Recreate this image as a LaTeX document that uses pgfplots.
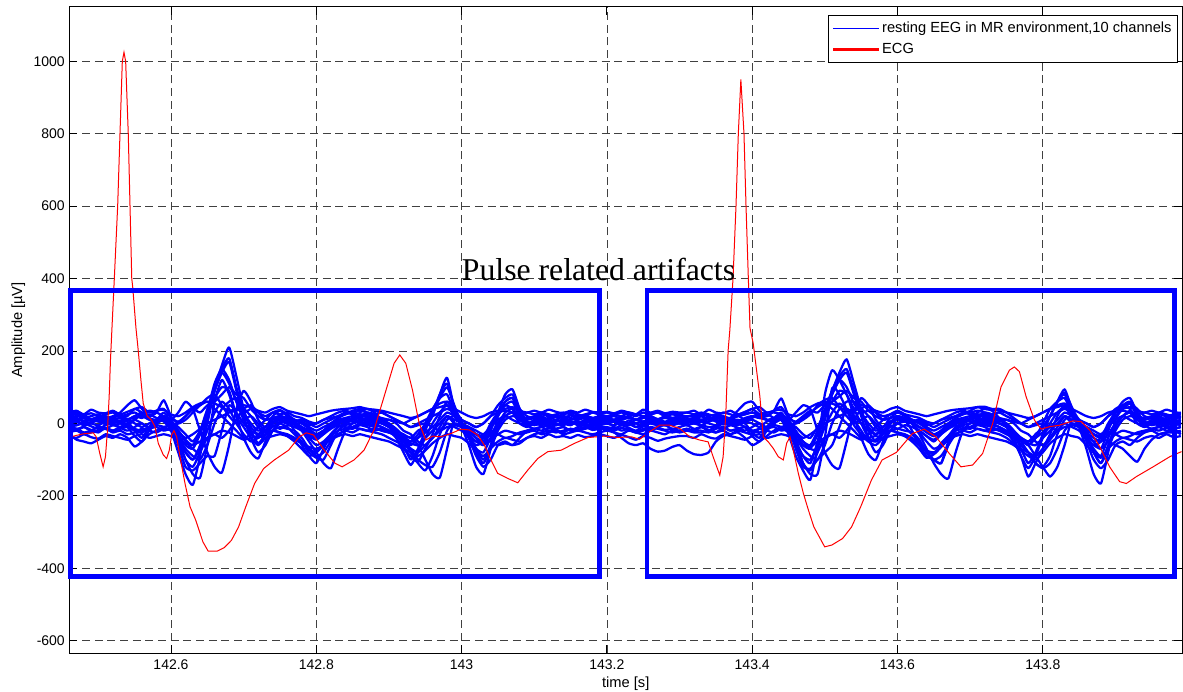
\documentclass[border=0pt]{standalone}
\usepackage{fontspec}
\setmainfont{Liberation Sans}
\newfontfamily\timesfont{Liberation Serif}
\usepackage{pgfplots}
\usepackage{pgfplotstable}
\pgfplotsset{compat=1.18}

% EEG channels (time in s, amplitude in uV)
\pgfplotstableread{
t c1 c2 c3 c4 c5 c6 c7 c8 c9 c10 c11 c12
142.46 5 -10 15 -20 0 10 -30 20 25 -25 10 0
142.47 10 -5 20 -15 5 5 -45 25 30 -20 15 -5
142.48 8 0 18 -25 -5 15 -50 15 22 -30 5 5
142.49 12 -8 10 -20 0 10 -55 20 28 -25 10 0
142.50 6 -15 15 -10 10 5 -45 25 20 -20 15 -5
142.51 10 -5 20 -15 5 0 -35 15 25 -15 5 5
142.52 4 0 12 -20 -5 10 -40 20 30 -25 10 0
142.53 8 5 5 -10 0 15 -30 30 20 -20 15 -10
142.54 12 -5 10 -5 5 10 -40 50 25 -30 20 0
142.55 15 10 0 -15 -20 20 -64 64 30 -25 40 10
142.56 20 25 -10 -20 -40 30 -50 40 20 -15 30 0
142.57 10 15 0 -10 -10 15 -30 20 35 -20 20 -10
142.58 5 0 10 0 10 10 -20 30 30 -25 35 5
142.59 15 20 5 10 20 30 -10 64 20 -15 40 15
142.60 0 -5 -20 -10 10 5 -5 20 10 -20 15 -10
142.61 -20 -40 -80 -50 30 -10 0 0 -20 -50 5 -60
142.62 -45 -80 -140 -100 60 -30 20 10 -50 -80 20 -120
142.63 -60 -100 -170 -140 40 -50 40 30 -70 -100 40 -130
142.64 -20 -60 -90 -150 -20 -20 50 50 -80 -70 30 -110
142.65 40 20 30 -60 -80 30 60 70 0 -20 50 -90
142.66 100 90 110 60 -120 70 40 80 90 30 60 -90
142.67 160 150 150 120 -136 100 20 50 140 60 80 -20
142.68 210 180 120 80 -60 90 0 20 110 40 100 50
142.69 130 100 60 20 40 20 -20 0 60 0 80 30
142.70 40 30 10 -10 90 -40 -40 10 30 -30 70 0
142.71 -20 0 -30 -40 60 -80 -30 20 40 -50 40 -20
142.72 -55 -20 -40 -60 10 -97 -10 0 30 -40 20 -30
142.73 -30 -10 -20 -40 -10 -50 10 -20 20 -30 10 -10
142.74 0 10 0 -20 20 0 30 -10 30 -20 15 5
142.75 10 20 15 -10 35 20 37 5 25 -25 20 0
142.76 5 10 10 -15 20 10 25 0 30 -30 15 -10
142.77 0 -5 5 -20 0 -20 10 5 20 -40 10 -30
142.78 -10 -15 -20 -40 -20 -60 0 10 15 -55 5 -50
142.79 -20 -30 -40 -70 -50 -90 -10 0 5 -70 -5 -80
142.80 -30 -40 -60 -90 -80 -110 -20 -10 0 -80 0 -95
142.81 -20 -25 -50 -80 -110 -70 -10 0 10 -60 10 -100
142.82 -10 -10 -30 -50 -124 -30 0 10 20 -40 15 -60
142.83 0 5 -10 -30 -70 -10 15 20 30 -30 20 -20
142.84 5 10 0 -20 -20 0 25 25 35 -20 30 -5
142.85 10 15 10 -10 0 10 35 30 30 -25 25 0
142.86 15 25 20 0 10 30 40 25 35 -15 20 5
142.87 10 20 30 -5 5 40 40 20 30 -20 25 0
142.88 5 10 25 -10 0 30 35 15 25 -25 20 -5
142.89 0 0 10 -20 -10 10 30 5 30 -30 15 -10
142.90 -10 -5 0 -25 -20 -10 20 10 20 -40 10 -20
142.91 -20 -30 -15 -30 -40 -40 10 0 10 -50 5 -30
142.92 -30 -60 -35 -35 -70 -80 0 -20 0 -60 0 -50
142.93 -40 -100 -50 -40 -90 -115 -10 -30 -10 -70 10 -70
142.94 -20 -70 -30 -60 -106 -80 -5 -50 0 -80 20 -100
142.95 -10 -20 0 -100 -70 -40 0 -60 10 -60 30 -115
142.96 20 30 40 -140 -30 0 -10 -40 20 -40 40 -120
142.97 80 70 70 -150 20 30 -20 -10 30 -20 55 -80
142.98 126 100 80 -70 60 50 -10 20 40 0 60 -20
142.99 40 50 30 10 30 20 -5 10 30 -10 40 0
143.00 -10 0 -10 0 0 0 -10 0 10 -20 10 -5
143.01 -30 -20 -60 -40 -30 -10 -20 -40 0 -35 0 -10
143.02 -50 -40 -120 -90 -70 -30 -30 -70 -10 -50 -10 -20
143.03 -40 -60 -140 -120 -100 -40 -40 -80 0 -60 0 -30
143.04 0 -20 -70 -100 -60 -10 -50 -40 20 -45 20 -10
143.05 30 30 20 -60 -10 20 -60 0 30 -30 50 10
143.06 50 80 60 -50 20 50 -55 30 35 -20 70 20
143.07 40 94 70 -60 30 60 -60 40 30 -25 80 10
143.08 10 40 30 -40 0 20 -55 20 25 -30 40 0
143.09 0 5 0 -20 -10 0 -40 15 30 -25 20 -5
143.10 5 -5 10 -15 0 5 -30 20 25 -20 15 0
143.11 0 0 15 -10 -5 10 -25 25 30 -30 10 5
143.12 5 -10 5 -20 5 0 -20 20 25 -25 15 0
143.13 10 -5 10 -15 0 5 -25 25 20 -20 20 -5
143.14 5 0 20 -10 -5 10 -20 30 25 -30 15 0
143.15 0 5 15 -20 5 5 -15 25 30 -25 10 5
143.16 10 -5 10 -15 0 0 -20 20 25 -20 15 0
143.17 15 0 20 -10 5 10 -15 25 20 -25 20 -5
143.18 10 10 15 -5 0 5 -10 30 30 -30 15 0
143.19 5 5 10 -10 -5 0 -15 25 25 -25 10 5
143.20 10 0 15 -15 0 5 -15 20 30 -20 15 0
143.21 5 -5 10 -10 5 10 -25 25 25 -25 10 -5
143.22 10 5 20 -20 0 5 -40 20 30 -30 15 5
143.23 15 0 15 -15 -5 0 -55 30 25 -20 20 0
143.24 10 -10 10 -25 0 10 -60 25 20 -25 10 -10
143.25 5 -5 20 -20 5 5 -55 20 30 -30 15 0
143.26 10 0 15 -10 0 15 -70 25 25 -20 20 5
143.27 5 5 10 -15 -5 10 -78 30 30 -25 10 0
143.28 0 0 20 -20 0 5 -75 20 25 -30 15 -5
143.29 10 -5 15 -25 5 10 -65 25 30 -20 10 0
143.30 5 0 10 -20 0 5 -60 20 25 -25 15 5
143.31 5 -5 10 -15 5 10 -75 20 30 -20 10 5
143.32 10 0 15 -20 0 5 -85 20 25 -25 15 0
143.33 5 -5 20 -20 -5 10 -87 25 30 -25 10 5
143.34 15 -10 10 -25 5 15 -80 20 25 -20 5 0
143.35 10 -10 20 -15 10 5 -50 25 20 -25 15 -5
143.36 5 0 15 -10 0 0 -35 20 30 -20 10 5
143.37 10 5 10 -20 -5 10 -30 15 25 -30 15 0
143.38 5 0 10 -15 5 20 -25 35 20 -20 20 -5
143.39 15 10 5 -10 0 25 -40 55 25 -25 30 5
143.40 20 15 0 -20 -25 30 -60 60 30 -30 40 10
143.41 15 25 -10 -15 -40 20 -50 35 25 -15 25 0
143.42 10 10 5 -10 -10 10 -35 20 30 -20 20 -10
143.43 5 5 10 0 10 15 -20 35 30 -25 35 5
143.44 20 25 10 15 25 30 -10 69 25 -15 45 15
143.45 0 -5 -30 -20 10 0 -5 20 10 -25 15 -10
143.46 -25 -50 -90 -60 30 -10 0 0 -20 -60 5 -70
143.47 -50 -90 -130 -110 50 -30 15 10 -50 -90 20 -120
143.48 -60 -110 -156 -140 40 -40 30 25 -70 -100 35 -125
143.49 -20 -50 -60 -140 -20 -10 45 50 -70 -60 30 -100
143.50 40 30 80 -40 -80 30 55 65 10 -10 50 -80
143.51 90 90 147 97 -115 60 40 70 80 30 60 -60
143.52 140 130 120 80 -124 90 20 45 120 55 75 -10
143.53 177 150 80 40 -50 80 0 20 100 35 90 40
143.54 110 90 40 10 30 20 -20 0 55 -5 70 20
143.55 40 30 0 -20 70 -40 -40 10 30 -30 60 0
143.56 -20 0 -40 -50 50 -85 -30 20 35 -50 35 -20
143.57 -50 -20 -50 -60 10 -101 -10 0 30 -45 20 -30
143.58 -30 -10 -20 -40 -10 -50 10 -20 20 -30 10 -10
143.59 0 5 0 -20 15 0 25 -10 25 -20 15 5
143.60 10 15 10 -15 30 20 35 0 30 -25 20 0
143.61 5 10 5 -20 20 10 25 5 25 -30 15 -10
143.62 0 0 0 -25 0 -20 10 5 20 -40 10 -30
143.63 -10 -20 -25 -45 -30 -60 0 10 15 -55 5 -50
143.64 -20 -35 -50 -80 -70 -90 -10 0 5 -75 -5 -80
143.65 -35 -50 -70 -100 -110 -100 -20 -10 0 -85 0 -100
143.66 -25 -30 -60 -90 -140 -110 -10 0 10 -65 10 -110
143.67 -10 -10 -35 -60 -152 -50 0 10 20 -40 15 -60
143.68 0 5 -10 -30 -80 -15 15 20 30 -30 20 -20
143.69 5 10 0 -20 -20 0 25 25 35 -20 30 -5
143.70 10 15 10 -10 0 10 35 30 30 -25 25 0
143.71 15 25 20 0 10 30 45 25 35 -15 20 5
143.72 10 20 30 -5 5 40 46 20 30 -20 25 0
143.73 5 10 25 -10 0 35 40 15 25 -25 20 -5
143.74 0 0 10 -20 -10 15 40 5 30 -30 15 -10
143.75 -10 -5 0 -30 -25 -10 30 10 20 -40 10 -20
143.76 -25 -30 -20 -40 -50 -40 15 0 10 -55 5 -35
143.77 -40 -70 -40 -50 -90 -90 0 -20 0 -70 0 -60
143.78 -50 -110 -60 -60 -147 -124 -10 -30 -10 -80 10 -80
143.79 -30 -80 -40 -90 -110 -90 -5 -50 0 -90 20 -110
143.80 -10 -30 0 -120 -70 -40 0 -60 10 -70 30 -124
143.81 20 20 40 -147 -30 0 -10 -40 20 -45 40 -110
143.82 60 60 60 -120 20 30 -20 -10 30 -20 50 -70
143.83 94 85 70 -60 50 45 -10 20 40 0 55 -20
143.84 40 45 30 10 30 20 -5 10 30 -10 40 0
143.85 -10 0 -10 0 0 0 -10 0 10 -20 10 -5
143.86 -30 -30 -70 -50 -40 -10 -20 -40 0 -40 0 -10
143.87 -50 -50 -140 -100 -80 -30 -30 -70 -10 -60 -10 -20
143.88 -40 -70 -166 -124 -110 -40 -40 -90 0 -70 0 -30
143.89 0 -20 -80 -100 -60 -10 -50 -40 20 -50 20 -10
143.90 30 30 10 -60 -10 20 -60 0 30 -30 40 10
143.91 45 60 40 -50 20 40 -70 20 35 -20 50 20
143.92 40 70 55 -60 30 55 -90 35 30 -25 55 10
143.93 10 30 30 -40 0 20 -106 20 25 -30 40 0
143.94 0 5 0 -25 -10 0 -70 15 30 -25 20 -5
143.95 5 -5 10 -15 0 5 -45 20 25 -20 15 0
143.96 0 0 15 -10 -5 10 -30 25 30 -30 10 5
143.97 5 -10 5 -20 5 0 -25 20 25 -25 15 0
143.98 10 -5 10 -15 0 5 -25 25 20 -20 20 -5
143.99 5 0 20 -10 -5 10 -20 30 25 -30 15 0
}\eeg

% further traces of the bundle
\pgfplotstableread{
t d1 d2 d3 d4 d5 d6
142.46 -5 30 -35 0 15 -15
142.47 -15 35 -40 8 10 -20
142.48 -10 25 -30 -5 20 -10
142.49 -20 38 -38 5 12 -18
142.50 -8 30 -42 10 18 -25
142.51 -15 28 -30 -3 10 -12
142.52 -5 35 -35 5 15 -20
142.53 -12 25 -40 0 22 -15
142.54 -20 32 -45 -10 10 -10
142.55 -10 40 -35 -35 20 -20
142.56 0 45 -30 -50 15 -25
142.57 -15 30 -40 -20 25 -15
142.58 -5 35 -35 0 15 -10
142.59 -10 38 -30 10 10 -20
142.60 -20 25 -35 -5 5 -15
142.61 -40 20 -45 -30 -40 -25
142.62 -70 30 -55 -60 -100 -40
142.63 -90 45 -60 -70 -120 -30
142.64 -100 55 -50 -30 -80 -15
142.65 -60 60 -40 30 -40 0
142.66 0 55 -30 90 -30 10
142.67 40 45 -20 140 -40 20
142.68 60 35 -25 170 -20 30
142.69 70 40 -35 90 10 35
142.70 30 50 -45 20 40 40
142.71 -10 45 -40 -40 50 20
142.72 -30 35 -35 -80 30 -10
142.73 -20 30 -40 -60 10 -25
142.74 -5 40 -35 -20 15 -20
142.75 -15 45 -30 0 20 -25
142.76 -5 35 -35 10 15 -35
142.77 -10 30 -45 5 10 -50
142.78 -20 25 -55 -10 0 -70
142.79 -35 20 -65 -25 -15 -90
142.80 -45 25 -70 -35 -30 -80
142.81 -30 30 -60 -20 -20 -55
142.82 -15 35 -45 -5 0 -35
142.83 -5 38 -35 5 10 -20
142.84 -10 40 -30 10 15 -15
142.85 -15 42 -35 5 20 -10
142.86 -5 45 -30 10 15 -15
142.87 -10 40 -35 15 25 -20
142.88 -20 38 -40 5 20 -15
142.89 -15 35 -45 0 10 -20
142.90 -25 30 -50 -10 0 -25
142.91 -35 25 -60 -25 -20 -30
142.92 -45 20 -70 -45 -50 -40
142.93 -55 15 -80 -60 -80 -50
142.94 -60 20 -90 -40 -110 -40
142.95 -40 30 -75 -10 -130 -25
142.96 -20 40 -55 30 -90 -10
142.97 0 45 -40 80 -30 10
142.98 20 50 -30 110 10 30
142.99 0 40 -35 40 20 20
143.00 -10 30 -40 -10 5 0
143.01 -25 20 -55 -40 -30 -15
143.02 -40 15 -75 -60 -80 -30
143.03 -50 20 -90 -50 -110 -35
143.04 -30 30 -70 -10 -70 -25
143.05 0 35 -50 30 -20 -30
143.06 20 40 -40 60 10 -40
143.07 30 45 -45 70 20 -35
143.08 10 35 -50 30 15 -25
143.09 -5 30 -40 5 10 -20
143.10 -15 35 -35 0 15 -15
143.11 -10 30 -40 5 20 -20
143.12 -5 38 -30 -5 10 -12
143.13 -15 32 -38 8 18 -18
143.14 -10 28 -35 0 15 -25
143.15 -20 35 -40 -5 22 -15
143.16 -10 30 -32 5 12 -20
143.17 -5 38 -38 0 18 -10
143.18 -15 32 -35 -8 15 -18
143.19 -10 30 -30 5 20 -15
143.20 -10 32 -35 0 15 -15
143.21 -15 28 -40 5 20 -20
143.22 -5 35 -32 -5 12 -12
143.23 -12 30 -38 8 18 -18
143.24 -20 25 -45 0 10 -25
143.25 -8 38 -35 -5 15 -15
143.26 -15 30 -40 5 20 -20
143.27 -10 35 -48 0 12 -12
143.28 -5 28 -42 -5 18 -18
143.29 -15 32 -38 5 15 -15
143.30 -10 30 -35 0 20 -20
143.31 -5 30 -35 0 15 -15
143.32 -15 35 -40 8 10 -20
143.33 -10 25 -30 -5 20 -10
143.34 -20 38 -38 5 12 -18
143.35 -8 30 -42 10 18 -25
143.36 -15 28 -30 -3 10 -12
143.37 -5 35 -35 5 15 -20
143.38 -12 25 -40 0 22 -15
143.39 -20 32 -45 -10 10 -10
143.40 -10 40 -35 -35 20 -20
143.41 0 45 -30 -50 15 -25
143.42 -15 30 -40 -20 25 -15
143.43 -5 35 -35 0 15 -10
143.44 -10 38 -30 10 10 -20
143.45 -20 25 -35 -5 5 -15
143.46 -40 20 -45 -30 -40 -25
143.47 -70 30 -60 -60 -110 -40
143.48 -90 45 -65 -70 -130 -30
143.49 -100 55 -50 -30 -80 -15
143.50 -60 60 -40 30 -40 0
143.51 0 55 -30 80 -30 10
143.52 40 45 -20 120 -40 20
143.53 60 35 -25 140 -20 30
143.54 60 40 -35 80 10 35
143.55 30 50 -45 20 40 40
143.56 -10 45 -40 -40 50 20
143.57 -30 35 -35 -80 30 -10
143.58 -20 30 -40 -60 10 -25
143.59 -5 40 -35 -20 15 -20
143.60 -15 45 -30 0 20 -25
143.61 -5 35 -35 10 15 -35
143.62 -10 30 -45 5 10 -50
143.63 -20 25 -60 -10 0 -70
143.64 -35 20 -75 -25 -15 -95
143.65 -45 25 -80 -35 -30 -85
143.66 -30 30 -65 -20 -20 -55
143.67 -15 35 -45 -5 0 -35
143.68 -5 38 -35 5 10 -20
143.69 -10 40 -30 10 15 -15
143.70 -15 42 -35 5 20 -10
143.71 -5 45 -30 10 15 -15
143.72 -10 40 -35 15 25 -20
143.73 -20 38 -40 5 20 -15
143.74 -15 35 -45 0 10 -20
143.75 -25 30 -50 -10 0 -25
143.76 -35 25 -60 -25 -20 -30
143.77 -45 20 -75 -45 -50 -40
143.78 -55 15 -90 -60 -80 -50
143.79 -60 20 -100 -40 -110 -40
143.80 -40 30 -80 -10 -120 -25
143.81 -20 40 -55 20 -90 -10
143.82 0 45 -40 60 -30 10
143.83 20 50 -30 80 10 30
143.84 0 40 -35 30 20 20
143.85 -10 30 -40 -10 5 0
143.86 -25 20 -60 -40 -30 -15
143.87 -40 15 -80 -60 -80 -30
143.88 -50 20 -95 -50 -110 -35
143.89 -30 30 -70 -10 -70 -25
143.90 0 35 -50 30 -20 -30
143.91 20 40 -40 50 10 -40
143.92 30 45 -45 60 20 -35
143.93 10 35 -50 30 15 -25
143.94 -5 30 -40 5 10 -20
143.95 -15 35 -35 0 15 -15
143.96 -10 30 -40 5 20 -20
143.97 -5 38 -30 -5 10 -12
143.98 -15 32 -38 8 18 -18
143.99 -10 28 -35 0 15 -25
}\eegb

% ECG trace
\pgfplotstableread{
t v
142.461 -38
142.470 -33
142.479 -29
142.493 -26
142.497 -37
142.502 -83
142.5066 -120
142.5098 -92
142.5126 -18
142.5149 74
142.5167 175
142.5186 257
142.522 400
142.5266 600
142.5298 800
142.533 1000
142.5353 1025
142.5376 1000
142.5412 800
142.5436 600
142.546 400
142.5473 377
142.5518 263
142.5549 202
142.5586 120
142.5618 55
142.5673 20
142.5733 9
142.5779 -9
142.5825 -55
142.5894 -87
142.594 -97
142.5977 -74
142.6009 -32
142.6041 -20
142.6078 -37
142.6124 -92
142.6193 -166
142.6262 -230
142.634 -267
142.6439 -327
142.6512 -353
142.6635 -353
142.6734 -343
142.6832 -323
142.693 -286
142.7028 -231
142.7151 -166
142.7274 -125
142.7422 -101
142.7619 -74
142.7766 -37
142.7864 -26
142.7962 -32
142.811 -74
142.8257 -110
142.8355 -120
142.8519 -101
142.8657 -74
142.8795 -18
142.8933 74
142.9071 166
142.9149 189
142.9232 166
142.9324 92
142.9416 0
142.9508 -46
142.96 -35
142.9715 -37
142.9853 -28
142.9991 -16
143.0106 -18
143.0221 -32
143.0313 -60
143.0405 -101
143.0497 -138
143.0635 -152
143.0773 -164
143.0911 -129
143.1049 -97
143.1187 -78
143.1371 -74
143.1555 -55
143.1739 -39
143.1969 -35
143.2153 -39
143.2337 -37
143.245 -44
143.2588 -23
143.2726 -5
143.2864 -5
143.3002 -14
143.314 -37
143.3278 -46
143.3393 -51
143.3462 -92
143.3554 -143
143.36 -92
143.3637 28
143.3669 202
143.3692 257
143.3736 400
143.3777 600
143.3809 800
143.3844 950
143.3887 800
143.3915 600
143.3947 400
143.397 263
143.4014 221
143.406 147
143.4106 74
143.4152 -37
143.4221 -51
143.429 -69
143.4359 -92
143.4428 -101
143.4474 -55
143.452 -37
143.4566 -74
143.4635 -138
143.4704 -193
143.4773 -239
143.4849 -286
143.4998 -341
143.5096 -336
143.5244 -318
143.5368 -286
143.5492 -231
143.564 -157
143.5788 -101
143.5986 -80
143.6206 -28
143.6367 -16
143.6528 -37
143.6712 -83
143.6873 -120
143.7034 -115
143.7172 -83
143.731 0
143.7425 101
143.754 147
143.7609 156
143.7678 143
143.777 74
143.7885 9
143.7977 -16
143.8092 -9
143.823 -5
143.8414 7
143.8529 5
143.8644 -18
143.8782 -64
143.892 -120
143.9058 -161
143.915 -166
143.9288 -147
143.9518 -120
143.9748 -92
143.9909 -78
}\ecg

\begin{document}
\begin{tikzpicture}
\begin{axis}[
    at={(0,0)}, anchor=south west,
    scale only axis,
    width=834.375pt, height=484.95pt,
    xmin=142.4603, xmax=143.9916,
    ymin=-635, ymax=1151,
    clip=false,
    axis line style={black, line width=0.7pt},
    tick pos=both, tick align=inside,
    major tick length=6pt,
    tick style={black, line width=0.6pt},
    xtick={142.6,142.8,143,143.2,143.4,143.6,143.8},
    xticklabels={142.6,142.8,143,143.2,143.4,143.6,143.8},
    ytick={-600,-400,-200,0,200,400,600,800,1000},
    yticklabels={-600,-400,-200,0,200,400,600,800,1000},
    tick label style={font=\fontsize{10.5}{12}\selectfont},
    xticklabel style={yshift=-1pt},
    grid=major,
    major grid style={black!75, line width=0.5pt, dash pattern=on 6pt off 3.5pt},
    xlabel={time [s]},
    ylabel={Amplitude [µV]},
    label style={font=\fontsize{11}{13}\selectfont},
    xlabel style={at={(axis description cs:0.5,-0.0467)}, anchor=center},
    ylabel style={at={(axis description cs:-0.046,0.5)}, anchor=center},
    legend cell align=left,
    legend image code/.code={\draw[#1] (0pt,0pt) -- (34pt,0pt);},
    legend style={at={(1,1)}, anchor=north east, xshift=-3pt, yshift=-6.2pt,
        draw=black, line width=0.6pt, fill=white,
        font=\fontsize{11}{13}\selectfont,
        inner xsep=3pt, inner ysep=3pt, row sep=3pt,
        nodes={inner sep=1.5pt, text height=8pt, text depth=2.3pt}},
    eeg/.style={blue, line width=1.7pt, line join=round, smooth, tension=0.35, forget plot},
]
\pgfplotsinvokeforeach{1,...,12}{
    \addplot[eeg] table[x=t, y=c#1] {\eeg};
}
\pgfplotsinvokeforeach{1,...,6}{
    \addplot[eeg] table[x=t, y=d#1] {\eegb};
}
\addplot[red, line width=0.75pt, forget plot] table[x=t, y=v] {\ecg};

\addlegendimage{blue, line width=1pt}
\addlegendentry{resting EEG in MR environment,10 channels}
\addlegendimage{red, line width=2.2pt}
\addlegendentry{ECG}

\draw[blue, line width=3.5pt] (axis cs:142.4619,-423.8) rectangle (axis cs:143.1895,366.3);
\draw[blue, line width=3.5pt] (axis cs:143.2551,-423.8) rectangle (axis cs:143.9817,366.3);
\node[anchor=base, inner sep=0pt, font=\timesfont\fontsize{23.8}{28}\selectfont]
    at (axis cs:143.1885,394) {Pulse related artifacts};
\end{axis}
\pgfresetboundingbox
\path[use as bounding box] (-52.125pt,-29.025pt) rectangle (835.125pt,489.975pt);
\end{tikzpicture}
\end{document}
